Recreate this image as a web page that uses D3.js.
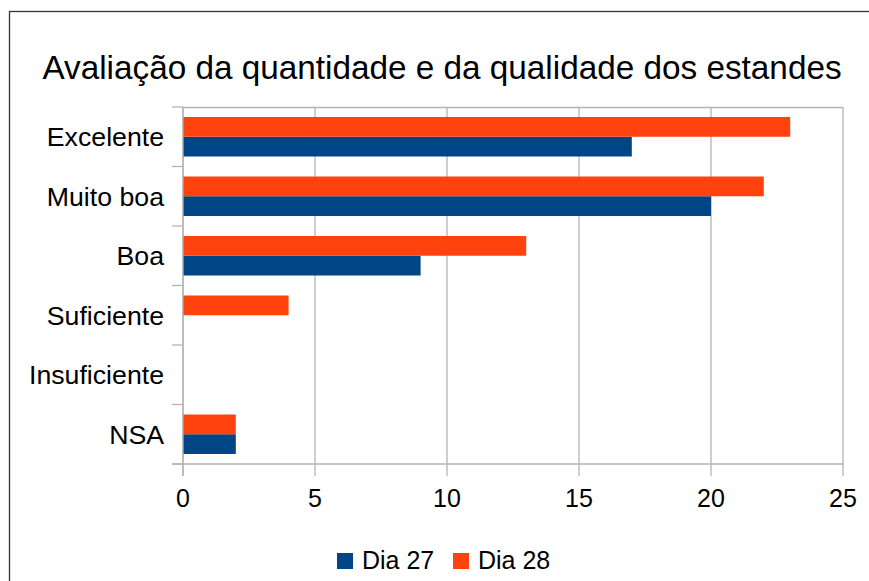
<!DOCTYPE html>
<html>
<head>
<meta charset="utf-8">
<script src="https://cdn.jsdelivr.net/npm/d3@7"></script>
<style>
    body { margin: 0; background: #ffffff; }
</style>
</head>
<body>
<script>
const categories = ["Excelente", "Muito boa", "Boa", "Suficiente", "Insuficiente", "NSA"];
const seriesNames = ["Dia 27", "Dia 28"];
const dia27 = [17, 20, 9, 0, 0, 2];
const dia28 = [23, 22, 13, 4, 0, 2];
const xTicks = [0, 5, 10, 15, 20, 25];
const seriesColors = ["#004586", "#ff420e"];

const FONT = "'Liberation Sans', Arial, sans-serif";

let svg = d3.select("body")
    .append("svg")
    .attr("width", 869)
    .attr("height", 581);

// outer frame
svg.append("rect")
    .attr("x", 9.5).attr("y", 11.5)
    .attr("width", 900).attr("height", 600)
    .attr("fill", "white")
    .attr("stroke", "#333333")
    .attr("stroke-width", 1.3);

svg.append("text")
    .text("Avaliação da quantidade e da qualidade dos estandes")
    .attr("x", 442)
    .attr("y", 79)
    .attr("text-anchor", "middle")
    .attr("font-family", FONT)
    .attr("font-size", 33.3)
    .attr("fill", "#000");

let plotLeft = 183, plotRight = 843, plotTop = 107, plotBottom = 464;

let x = d3.scaleLinear().domain([0, 25]).range([plotLeft, plotRight]);
let y = d3.scaleBand().domain(categories).range([plotTop, plotBottom]);
let ySub = d3.scaleBand().domain(["Dia 28", "Dia 27"])
    .range([10, y.bandwidth() - 10]);

let grid = svg.append("g");

// vertical grid lines + ticks below
xTicks.forEach(function (t) {
    grid.append("line")
        .attr("x1", x(t)).attr("x2", x(t))
        .attr("y1", plotTop).attr("y2", plotBottom + 12)
        .attr("stroke", "#b3b3b3").attr("stroke-width", 1.3);
});

// top line of plot area
grid.append("line")
    .attr("x1", plotLeft).attr("x2", plotRight)
    .attr("y1", plotTop + 0.5).attr("y2", plotTop + 0.5)
    .attr("stroke", "#b3b3b3").attr("stroke-width", 1.3);

// category boundary ticks
let bounds = categories.map(c => y(c)).concat([plotBottom]);
bounds.forEach(function (b) {
    grid.append("line")
        .attr("x1", plotLeft - 11).attr("x2", plotLeft)
        .attr("y1", b).attr("y2", b)
        .attr("stroke", "#b3b3b3").attr("stroke-width", 1.3);
});

// bars
let rows = categories.map((c, i) => ({cat: c, "Dia 27": dia27[i], "Dia 28": dia28[i]}));

seriesNames.forEach(function (s, si) {
    svg.append("g")
        .selectAll("rect")
        .data(rows)
        .enter()
        .append("rect")
        .attr("x", x(0))
        .attr("y", d => y(d.cat) + ySub(s))
        .attr("width", d => x(d[s]) - x(0))
        .attr("height", ySub.bandwidth())
        .attr("fill", seriesColors[si]);
});

// axis lines on top of bars
svg.append("line")
    .attr("x1", plotLeft).attr("x2", plotLeft)
    .attr("y1", plotTop).attr("y2", plotBottom + 12)
    .attr("stroke", "#b3b3b3").attr("stroke-width", 1.3);
svg.append("line")
    .attr("x1", plotLeft - 11).attr("x2", plotRight)
    .attr("y1", plotBottom).attr("y2", plotBottom)
    .attr("stroke", "#b3b3b3").attr("stroke-width", 1.3);

// category labels
svg.append("g")
    .selectAll("text")
    .data(categories)
    .enter()
    .append("text")
    .text(d => d)
    .attr("x", 164)
    .attr("y", d => y(d) + y.bandwidth() / 2 + 9.5)
    .attr("text-anchor", "end")
    .attr("font-family", FONT)
    .attr("font-size", 26.7)
    .attr("fill", "#000");

// x tick labels
svg.append("g")
    .selectAll("text")
    .data(xTicks)
    .enter()
    .append("text")
    .text(d => d)
    .attr("x", d => x(d))
    .attr("y", 507)
    .attr("text-anchor", "middle")
    .attr("font-family", FONT)
    .attr("font-size", 25)
    .attr("fill", "#000");

// legend
let legendX = [337, 453];
seriesNames.forEach(function (s, i) {
    svg.append("rect")
        .attr("x", legendX[i]).attr("y", 553)
        .attr("width", 16).attr("height", 16)
        .attr("fill", seriesColors[i]);
    svg.append("text")
        .text(s)
        .attr("x", legendX[i] + 25)
        .attr("y", 569)
        .attr("font-family", FONT)
        .attr("font-size", 25)
        .attr("fill", "#000");
});
</script>
</body>
</html>
